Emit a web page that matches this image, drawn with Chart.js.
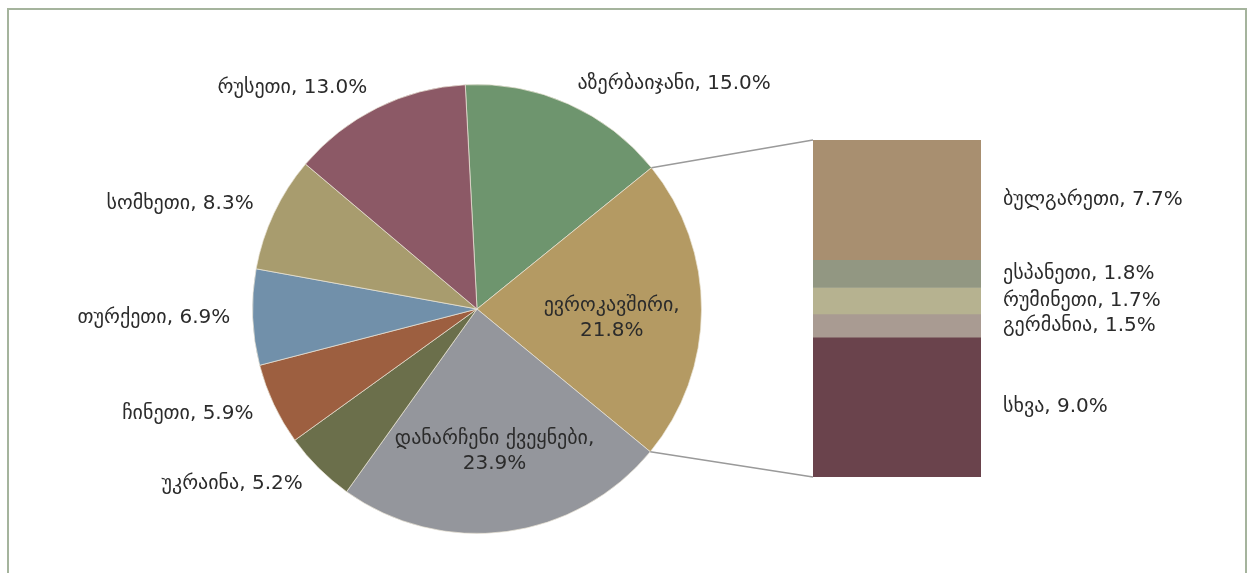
<!DOCTYPE html>
<html>
<head>
<meta charset="utf-8">
<script src="https://cdn.jsdelivr.net/npm/chart.js@4/dist/chart.umd.min.js"></script>
<style>
  html, body { margin: 0; padding: 0; background: #fff; overflow: hidden; }
  #frame { position: absolute; left: 7px; top: 8px; width: 1236px; height: 620px; border: 2px solid #a5b49d; }
  #pieCanvas { position: absolute; left: 0; top: 0; }
  #barCanvas { position: absolute; left: 813px; top: 140px; }
</style>
</head>
<body>
<div id="frame"></div>
<canvas id="pieCanvas" width="1253" height="573"></canvas>
<canvas id="barCanvas" width="420" height="337"></canvas>
<script>
// main pie: countries, share of total (%)
const pieLabels = ['აზერბაიჯანი', 'ევროკავშირი', 'დანარჩენი ქვეყნები', 'უკრაინა', 'ჩინეთი', 'თურქეთი', 'სომხეთი', 'რუსეთი'];
const pieValues = [15.0, 21.8, 23.9, 5.2, 5.9, 6.9, 8.3, 13.0];
const pieColors = ['#6e956e', '#b49a63', '#94969c', '#6b6f4b', '#9d5f40', '#7190aa', '#a89c6e', '#8c5966'];

// EU breakdown shown in the bar, top to bottom
const euLabels = ['ბულგარეთი', 'ესპანეთი', 'რუმინეთი', 'გერმანია', 'სხვა'];
const euValues = [7.7, 1.8, 1.7, 1.5, 9.0];
const euColors = ['#a88f70', '#929782', '#b6b290', '#a99b92', '#6a434c'];

//index of the pie slice that is split into the bar
const SPLIT_INDEX = 1;
const FONT = '20px "DejaVu Sans", sans-serif';
const TEXT_COLOR = '#2b2b2b';

function fmt(v) {
    return v.toFixed(1) + '%';
}

// labels to the right of each bar segment
const barLabelPlugin = {
    id: 'barLabels',
    afterDraw(chart) {
        let ctx = chart.ctx;
        ctx.save();
        ctx.font = FONT;
        ctx.fillStyle = TEXT_COLOR;
        ctx.textBaseline = 'middle';
        ctx.textAlign = 'left';
        chart.data.datasets.forEach((ds, i) => {
            let bar = chart.getDatasetMeta(i).data[0];
            let midY = (bar.y + bar.base) / 2;
            let x = bar.x + bar.width / 2 + 22;
            ctx.fillText(ds.label + ', ' + fmt(ds.data[0]), x, midY);
        });
        ctx.restore();
    }
};

let barChart = new Chart(document.getElementById('barCanvas'), {
    type: 'bar',
    data: {
        labels: ['ევროკავშირი'],
        datasets: euLabels.map((l, i) => ({
            label: l,
            data: [euValues[i]],
            backgroundColor: euColors[i],
            borderWidth: 0,
            barPercentage: 1,
            categoryPercentage: 1
        }))
    },
    options: {
        responsive: false,
        animation: false,
        layout: { padding: { left: 0, right: 252, top: 0, bottom: 0 } },
        plugins: { legend: { display: false }, tooltip: { enabled: false } },
        scales: {
            x: { stacked: true, display: false },
            y: {
                stacked: true,
                display: false,
                reverse: true,
                min: 0,
                max: euValues.reduce((a, b) => a + b, 0)
            }
        }
    },
    plugins: [barLabelPlugin]
});

// slice labels + lines joining the split slice to the bar
const pieLabelPlugin = {
    id: 'pieLabels',
    afterDraw(chart) {
        let ctx = chart.ctx;
        let meta = chart.getDatasetMeta(0);
        ctx.save();
        ctx.font = FONT;
        ctx.fillStyle = TEXT_COLOR;
        ctx.textBaseline = 'middle';
        meta.data.forEach((arc, i) => {
            let mid = (arc.startAngle + arc.endAngle) / 2;
            let v = pieValues[i];
            let text = pieLabels[i] + ', ' + fmt(v);
            if (v >= 20) {
                // big slices get the label inside, on two lines
                let r = arc.outerRadius * 0.6;
                let x = arc.x + Math.cos(mid) * r;
                let y = arc.y + Math.sin(mid) * r;
                ctx.textAlign = 'center';
                ctx.fillText(pieLabels[i] + ',', x, y - 4);
                ctx.fillText(fmt(v), x, y + 21);
            } else {
                let r = arc.outerRadius * 1.1;
                let x = arc.x + Math.cos(mid) * r;
                let y = arc.y + Math.sin(mid) * r;
                ctx.textAlign = Math.cos(mid) >= 0 ? 'left' : 'right';
                ctx.fillText(text, x, y);
            }
        });

        //connector lines to the bar corners
        let arc = meta.data[SPLIT_INDEX];
        let yScale = barChart.scales.y;
        let bar = barChart.getDatasetMeta(0).data[0];
        let offX = barChart.canvas.offsetLeft - chart.canvas.offsetLeft;
        let offY = barChart.canvas.offsetTop - chart.canvas.offsetTop;
        let barLeft = bar.x - bar.width / 2 + offX;
        let barTop = yScale.getPixelForValue(yScale.min) + offY;
        let barBottom = yScale.getPixelForValue(yScale.max) + offY;
        let r = arc.outerRadius;
        ctx.strokeStyle = '#9a9a9a';
        ctx.lineWidth = 1.5;
        ctx.beginPath();
        ctx.moveTo(arc.x + Math.cos(arc.startAngle) * r, arc.y + Math.sin(arc.startAngle) * r);
        ctx.lineTo(barLeft, barTop);
        ctx.moveTo(arc.x + Math.cos(arc.endAngle) * r, arc.y + Math.sin(arc.endAngle) * r);
        ctx.lineTo(barLeft, barBottom);
        ctx.stroke();
        ctx.restore();
    }
};

new Chart(document.getElementById('pieCanvas'), {
    type: 'pie',
    data: {
        labels: pieLabels,
        datasets: [{
            data: pieValues,
            backgroundColor: pieColors,
            borderColor: 'rgba(235,230,215,0.7)',
            borderWidth: 1
        }]
    },
    options: {
        responsive: false,
        animation: false,
        rotation: -3,
        layout: { padding: { left: 252, top: 84, right: 551, bottom: 39 } },
        plugins: { legend: { display: false }, tooltip: { enabled: false } }
    },
    plugins: [pieLabelPlugin]
});
</script>
</body>
</html>
